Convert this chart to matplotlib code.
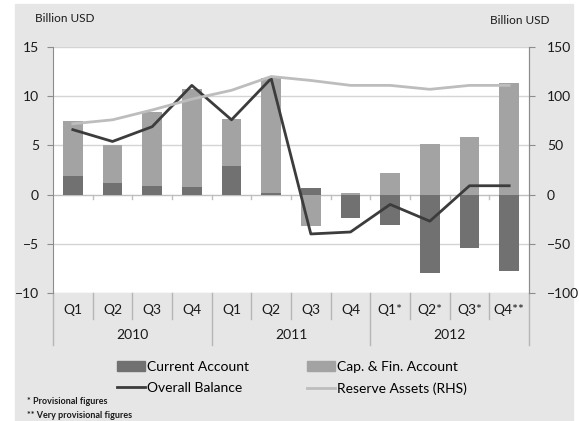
import numpy as np
import matplotlib
matplotlib.use("Agg")
import matplotlib.pyplot as plt
from matplotlib.patches import Rectangle, Patch
from matplotlib.lines import Line2D
import matplotlib.transforms as mtransforms

plt.rcParams['font.family'] = ['Lato', 'DejaVu Sans']

# quarterly balance of payments, billion USD
quarters = ['Q1', 'Q2', 'Q3', 'Q4', 'Q1', 'Q2', 'Q3', 'Q4', 'Q1*', 'Q2*', 'Q3*', 'Q4**']
years = ['2010', '2011', '2012']
current_account = [1.9, 1.2, 0.9, 0.8, 2.9, 0.15, 0.7, -2.4, -3.1, -8.0, -5.4, -7.8]
cap_fin_account = [5.6, 3.8, 7.5, 9.9, 4.8, 11.7, -3.2, 0.2, 2.2, 5.1, 5.9, 11.3]
overall_balance = [6.6, 5.4, 6.9, 11.1, 7.6, 11.8, -4.0, -3.8, -1.0, -2.7, 0.9, 0.9]
reserve_assets = [72, 76, 86, 97, 106, 120, 116, 111, 111, 107, 111, 111]

col_ca = '#717171'
col_cfa = '#a3a3a3'
col_ob = '#3c3c3c'
col_ra = '#bdbdbd'
col_axis = '#8c8c8c'
txt = '#1a1a1a'

fig = plt.figure(figsize=(5.79, 4.21), dpi=100)
fig.patches.append(Rectangle((15 / 579, 0), 558 / 579, 1 - 4 / 421,
                             transform=fig.transFigure, color='#e6e6e6', zorder=-5))

ax = fig.add_axes([53 / 579, 1 - 293 / 421, 476 / 579, 246 / 421])
ax.set_facecolor('white')
x = np.arange(len(quarters))
ca = np.array(current_account)
cfa = np.array(cap_fin_account)

# stack positives upward and negatives downward
ca_base = np.zeros(len(x))
cfa_base = np.where((cfa >= 0) & (ca >= 0), ca, 0.0)
cfa_base = np.where((cfa < 0) & (ca < 0), ca, cfa_base)
ax.bar(x, ca, 0.5, bottom=ca_base, color=col_ca, zorder=3)
ax.bar(x, cfa, 0.5, bottom=cfa_base, color=col_cfa, zorder=3)
ax.plot(x, overall_balance, color=col_ob, lw=2, zorder=5)

ax.set_xlim(-0.5, len(x) - 0.5)
ax.set_ylim(-10, 15)
ax.set_yticks([-10, -5, 0, 5, 10, 15])
ax.set_xticks([])
for v in [-10, -5, 5, 10, 15]:
    ax.axhline(v, color='#d4d4d4', lw=1, zorder=1)
ax.axhline(0, color='#bfbfbf', lw=1, zorder=2)
for b in np.arange(0.5, len(x) - 1, 1.0):
    ax.plot([b, b], [0, -0.45], color='#bfbfbf', lw=1, zorder=2)

for s in ['top', 'bottom']:
    ax.spines[s].set_visible(False)
ax.spines['left'].set_color(col_axis)
ax.spines['right'].set_color(col_axis)
ax.tick_params(axis='y', colors=col_axis, labelcolor=txt, labelsize=10, length=4, pad=6)

ax2 = ax.twinx()
ax2.plot(x, reserve_assets, color=col_ra, lw=2, zorder=4)
ax2.set_ylim(-100, 150)
ax2.set_yticks([-100, -50, 0, 50, 100, 150])
for s in ['top', 'bottom', 'left']:
    ax2.spines[s].set_visible(False)
ax2.spines['right'].set_color(col_axis)
ax2.tick_params(axis='y', colors=col_axis, labelcolor=txt, labelsize=10, length=4, pad=9)

# category labels below the plot
tr = mtransforms.blended_transform_factory(ax.transData, ax.transAxes)
for i, q in enumerate(quarters):
    ax.text(i, -0.07, q, transform=tr, ha='center', va='center', fontsize=10, color=txt)
for i, yr in enumerate(years):
    ax.text(4 * i + 1.5, -0.172, yr, transform=tr, ha='center', va='center', fontsize=10, color=txt)
for b in np.arange(-0.5, len(x), 1.0):
    low = -0.21 if (b + 0.5) % 4 == 0 else -0.105
    ax.plot([b, b], [0, low], transform=tr, color='#b5b5b5', lw=1, clip_on=False)

fig.text(35 / 579, 1 - 18 / 421, 'Billion USD', fontsize=8.5, color=txt, va='center')
fig.text(549 / 579, 1 - 20 / 421, 'Billion USD', fontsize=8.5, color=txt, va='center', ha='right')

handles = [Patch(color=col_ca), Line2D([], [], color=col_ob, lw=2),
           Patch(color=col_cfa), Line2D([], [], color=col_ra, lw=2)]
labels = ['Current Account', 'Overall Balance', 'Cap. & Fin. Account', 'Reserve Assets (RHS)']
fig.legend(handles, labels, ncol=2, frameon=False, loc='upper left',
           bbox_to_anchor=(117 / 579, 1 - 361 / 421), fontsize=10,
           handlelength=2.0, handletextpad=0.15, columnspacing=4.2,
           labelspacing=0.65, borderaxespad=0, borderpad=0)

fig.text(27 / 579, 1 - 402 / 421, '* Provisional figures', fontsize=6.5, fontweight='bold', color=txt, va='center')
fig.text(27 / 579, 1 - 415 / 421, '** Very provisional figures', fontsize=6.5, fontweight='bold', color=txt, va='center')

fig.savefig('out.png', dpi=100)
